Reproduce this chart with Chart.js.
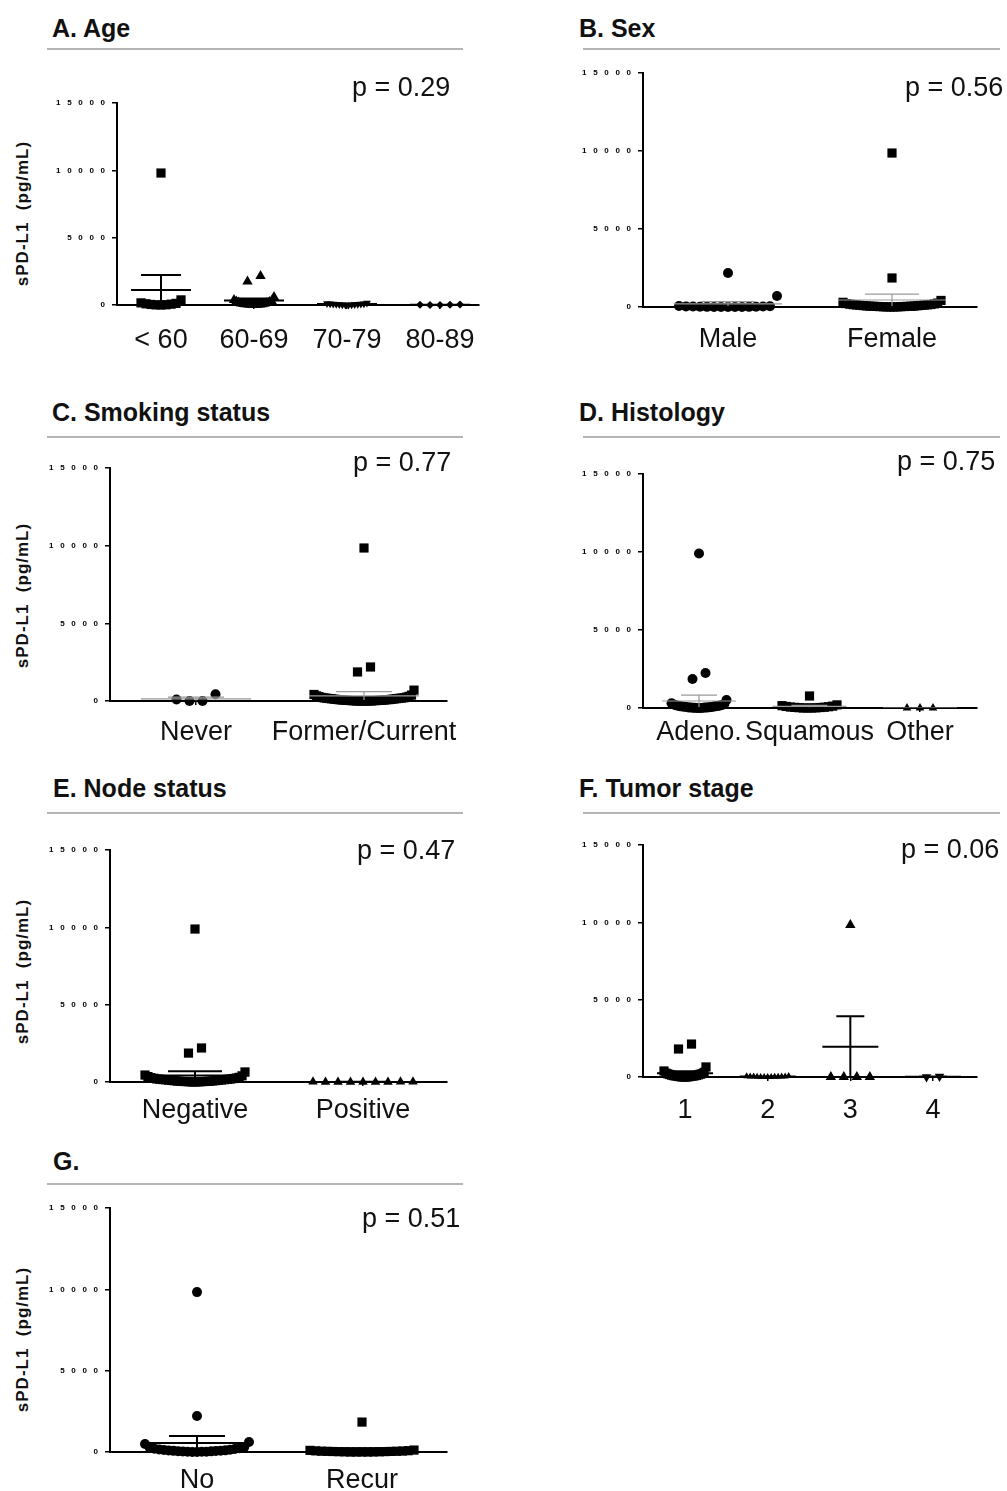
<!DOCTYPE html>
<html>
<head>
<meta charset="utf-8">
<script src="https://cdn.jsdelivr.net/npm/chart.js@4.4.1/dist/chart.umd.min.js"></script>
<style>
  html, body { margin: 0; padding: 0; background: #fff; }
  #page { position: relative; width: 1007px; height: 1491px; overflow: hidden;
          font-family: "Liberation Sans", Arial, Helvetica, sans-serif; color: #111; }
  #page canvas { position: absolute; }
  .ttl  { position: absolute; font-weight: bold; font-size: 25px; line-height: 25px; white-space: nowrap; }
  .pv   { position: absolute; font-size: 27px; line-height: 27px; white-space: nowrap; }
  .rule { position: absolute; height: 0; border-top: 2px solid #b4b4b4; }
  .ytl  { position: absolute; width: 200px; height: 17px; text-align: center; font-weight: bold;
          font-size: 17px; line-height: 17px; letter-spacing: 1px; transform: rotate(-90deg); white-space: pre; }
</style>
</head>
<body>
<div id="page"></div>
<script>
// ── Data (pg/mL) ───────────────────────────────────────────
const ageCats    = ['< 60', '60-69', '70-79', '80-89'];
const ageUnder60 = [9800, 380, 160, 120, 90, 60, 40, 20, 10, 0];
const age60s     = [2150, 1750, 600, 380, 300, 260, 220, 180, 150, 120, 100, 80, 60, 50, 40, 30, 20, 10, 0, 0];
const age70s     = [150, 120, 100, 90, 80, 70, 60, 50, 40, 30, 20, 10, 0, 0];
const age80s     = [40, 20, 10, 0, 0];
const ageMean    = [1110, 330, 70, 15];
const ageSem     = [1120, 160, 15, 8];

const sexCats   = ['Male', 'Female'];
const sexMale   = [2180, 700, 60, 50, 40, 30, 30, 20, 20, 10, 10, 5, 0, 0, 0, 0];
const sexFemale = [9870, 1860, 420, 300, 250, 220, 200, 180, 160, 150, 140, 130, 120, 110, 100, 90,
                   80, 70, 60, 55, 50, 45, 40, 35, 30, 25, 20, 15, 10, 5, 0, 0];
const sexMean   = [200, 450];
const sexSem    = [140, 380];

const smokeCats   = ['Never', 'Former/Current'];
const smokeNever  = [100, 0, 0, 430];
const smokeFormer = [9850, 2190, 1870, 700, 420, 380, 330, 300, 280, 250, 230, 210, 200, 190, 180, 170,
                     160, 150, 140, 130, 120, 110, 100, 90, 85, 80, 70, 60, 55, 50, 45, 40, 35, 30, 25,
                     20, 15, 10, 5, 0, 0, 0, 0, 0];
const smokeMean   = [140, 330];
const smokeSem    = [105, 270];

const histCats     = ['Adeno.', 'Squamous', 'Other'];
const histAdeno    = [9900, 2240, 1860, 510, 300, 250, 220, 200, 180, 160, 150, 130, 120, 110, 100, 90,
                      80, 70, 60, 50, 40, 35, 30, 25, 20, 15, 10, 5, 0, 0];
const histSquamous = [770, 200, 150, 120, 100, 80, 60, 50, 40, 30, 20, 10, 0, 0, 0];
const histOther    = [0, 0, 0];
const histMean     = [450, 110, 0];
const histSem      = [380, 55, 0];

const nodeCats = ['Negative', 'Positive'];
const nodeNeg  = [9890, 2200, 1870, 650, 450, 400, 350, 300, 280, 260, 240, 220, 200, 190, 180, 170,
                  160, 150, 140, 130, 120, 110, 100, 90, 80, 70, 60, 50, 45, 40, 35, 30, 25, 20, 15, 10, 5, 0];
const nodePos  = [20, 10, 10, 5, 5, 0, 0, 0, 0];
const nodeMean = [420, 8];
const nodeSem  = [270, 3];

const stageCats = ['1', '2', '3', '4'];
const stage1    = [2130, 1810, 650, 390, 300, 250, 220, 200, 180, 160, 140, 120, 100, 90, 80, 70, 60,
                   50, 40, 30, 20, 10, 5, 0, 0];
const stage2    = [60, 50, 40, 35, 30, 25, 20, 15, 10, 5, 0, 0, 0];
const stage3    = [9830, 0, 0, 0, 0];
const stage4    = [30, 0];
const stageMean = [250, 25, 1960, 15];
const stageSem  = [120, 6, 1960, 15];

const recurCats = ['No', 'Recur'];
const recurNo   = [9830, 2210, 615, 490, 300, 260, 230, 200, 180, 160, 140, 120, 100, 90, 80, 70, 60,
                   50, 40, 30, 20, 15, 10, 5, 0];
const recurYes  = [1840, 120, 100, 80, 70, 60, 50, 45, 40, 35, 30, 25, 20, 15, 10, 5, 0, 0, 0, 0];
const recurMean = [550, 130];
const recurSem  = [430, 95];

const yTicks  = [0, 5000, 10000, 15000];
const yTitle  = 'sPD-L1  (pg/mL)';
const titles  = ['A. Age', 'B. Sex', 'C. Smoking status', 'D. Histology', 'E. Node status', 'F. Tumor stage', 'G.'];
const pValues = ['p = 0.29', 'p = 0.56', 'p = 0.77', 'p = 0.75', 'p = 0.47', 'p = 0.06', 'p = 0.51'];

// ── Layout / styles ────────────────────────────────────────
const FONT = '"Liberation Sans", Arial, Helvetica, sans-serif';
const BLACK = { color: '#000', width: 2 };
const GRAY  = { color: '#9a9a9a', width: 1.2 };
const SQ = { style: 'rect', r: 6.5 }, DOT = { style: 'circle', r: 5 }, TRI = { style: 'triangle', r: 6 };

const panels = [
  { cats: ageCats, groups: [ageUnder60, age60s, age70s, age80s], mean: ageMean, sem: ageSem,
    marks: [SQ, TRI, { style: 'triangle', r: 4.5, rot: 180 }, { style: 'rectRot', r: 4 }],
    box: { left: 117, top: 103, right: 479, bottom: 305, c1: 161, cn: 440, row: 40, pad: 15 },
    line: BLACK, hm: 30, hc: 20,
    title: { x: 52, y: 37 }, rule: { x: 47, y: 49, w: 416 }, p: { x: 352, y: 97 }, ytl: { x: 22, y: 213 } },
  { cats: sexCats, groups: [sexMale, sexFemale], mean: sexMean, sem: sexSem, marks: [DOT, SQ],
    box: { left: 643, top: 73, right: 977, bottom: 307, c1: 728, cn: 892, row: 98, pad: 12.5 },
    line: GRAY, hm: 54, hc: 27,
    title: { x: 579, y: 37 }, rule: { x: 583, y: 49, w: 417 }, p: { x: 905, y: 97 } },
  { cats: smokeCats, groups: [smokeNever, smokeFormer], mean: smokeMean, sem: smokeSem, marks: [DOT, SQ],
    box: { left: 110, top: 468, right: 447, bottom: 701, c1: 196, cn: 364, row: 100, pad: 11.5 },
    line: GRAY, hm: 55, hc: 28,
    title: { x: 52, y: 421 }, rule: { x: 47, y: 437, w: 416 }, p: { x: 353, y: 472 }, ytl: { x: 22, y: 595 } },
  { cats: histCats, groups: [histAdeno, histSquamous, histOther], mean: histMean, sem: histSem,
    marks: [DOT, SQ, { style: 'triangle', r: 5 }],
    box: { left: 643, top: 474, right: 977, bottom: 708, c1: 699, cn: 920, row: 55, pad: 4.5 },
    line: GRAY, hm: 37, hc: 18,
    title: { x: 579, y: 421 }, rule: { x: 583, y: 437, w: 417 }, p: { x: 897, y: 471 } },
  { cats: nodeCats, groups: [nodeNeg, nodePos], mean: nodeMean, sem: nodeSem,
    marks: [SQ, { style: 'triangle', r: 5.5 }],
    box: { left: 110, top: 850, right: 447, bottom: 1082, c1: 195, cn: 363, row: 100, pad: 8.5 },
    line: BLACK, hm: 54, hc: 27,
    title: { x: 53, y: 797 }, rule: { x: 47, y: 813, w: 416 }, p: { x: 357, y: 860 }, ytl: { x: 22, y: 971 } },
  { cats: stageCats, groups: [stage1, stage2, stage3, stage4], mean: stageMean, sem: stageSem,
    marks: [SQ, { style: 'triangle', r: 4 }, TRI, { style: 'triangle', r: 5.5, rot: 180 }],
    box: { left: 643, top: 845, right: 977, bottom: 1077, c1: 685, cn: 933, row: 42, pad: 13.5 },
    line: BLACK, hm: 28, hc: 14,
    title: { x: 579, y: 797 }, rule: { x: 583, y: 813, w: 417 }, p: { x: 901, y: 859 } },
  { cats: recurCats, groups: [recurNo, recurYes], mean: recurMean, sem: recurSem, marks: [DOT, SQ],
    box: { left: 110, top: 1208, right: 447, bottom: 1452, c1: 197, cn: 362, row: 104, pad: 8.5 },
    line: BLACK, hm: 55, hc: 28,
    title: { x: 53, y: 1170 }, rule: { x: 47, y: 1184, w: 416 }, p: { x: 362, y: 1228 }, ytl: { x: 22, y: 1339 } },
];

const page = document.getElementById('page');

function addText(cls, text, left, top) {
  const d = document.createElement('div');
  d.className = cls;
  d.textContent = text;
  d.style.left = left + 'px';
  d.style.top = top + 'px';
  page.appendChild(d);
  return d;
}

// column scatter: values within ~one marker height share a row and are spread sideways,
// lowest in the middle of the row, highest at its ends
function swarm(values, centre, unit, pxY, rowPx) {
  const order = values.map(function(v, i) { return i; }).sort(function(a, b) { return values[a] - values[b]; });
  const rows = [];
  order.forEach(function(i) {
    const r = rows[rows.length - 1];
    if (r && (values[i] - values[r[0]]) * pxY < 11) r.push(i);
    else rows.push([i]);
  });
  const pts = [];
  rows.forEach(function(r) {
    const n = r.length;
    const step = n > 1 ? Math.min(13, rowPx / (n - 1)) : 0;
    const mid = (n - 1) / 2;
    const slots = r.map(function(_, k) { return k; })
      .sort(function(a, b) { return Math.abs(a - mid) - Math.abs(b - mid) || a - b; });
    r.forEach(function(i, k) {
      pts.push({ x: centre + (slots[k] - mid) * step / unit, y: values[i] });
    });
  });
  return pts;
}

// mean line + SEM whisker with cap, one path per group
function summaryPath(means, sems, unit, hm, hc) {
  const pts = [];
  means.forEach(function(m, i) {
    const x = i + 1, s = sems[i];
    pts.push({ x: x - hm / unit, y: m }, { x: x + hm / unit, y: m }, { x: x, y: null },
             { x: x, y: m - s }, { x: x, y: m + s }, { x: x, y: null },
             { x: x - hc / unit, y: m + s }, { x: x + hc / unit, y: m + s }, { x: x, y: null });
  });
  return pts;
}

function buildPanel(p, idx) {
  const b = p.box;
  const YW = 70, XH = 56, PT = 12, PR = 30;
  const canvas = document.createElement('canvas');
  canvas.width  = b.right - b.left + YW + PR;
  canvas.height = b.bottom - b.top + PT + XH;
  canvas.style.left = (b.left - YW) + 'px';
  canvas.style.top  = (b.top - PT) + 'px';
  page.appendChild(canvas);

  const n = p.cats.length;
  const unit = (b.cn - b.c1) / (n - 1);
  const xMin = 1 - (b.c1 - b.left) / unit;
  const xMax = 1 + (b.right - b.c1) / unit;
  const pxY  = (b.bottom - b.top) / yTicks[yTicks.length - 1];

  const datasets = p.groups.map(function(vals, i) {
    const m = p.marks[i];
    return {
      data: swarm(vals, i + 1, unit, pxY, b.row),
      pointStyle: m.style,
      pointRadius: m.r,
      rotation: m.rot || 0,
      backgroundColor: '#000',
      borderColor: '#000',
      borderWidth: 0,
      clip: false,
      order: 1,
    };
  });
  datasets.push({
    data: summaryPath(p.mean, p.sem, unit, p.hm, p.hc),
    showLine: true,
    spanGaps: false,
    pointRadius: 0,
    borderColor: p.line.color,
    borderWidth: p.line.width,
    order: 0,
  });

  const axisGrid = { drawOnChartArea: false, drawTicks: true, color: '#000', lineWidth: 1.5 };

  new Chart(canvas, {
    type: 'scatter',
    data: { datasets: datasets },
    options: {
      responsive: false,
      animation: false,
      events: [],
      layout: { padding: { top: PT, right: PR, left: 0, bottom: 0 } },
      plugins: { legend: { display: false }, tooltip: { enabled: false } },
      scales: {
        x: {
          type: 'linear', min: xMin, max: xMax,
          afterBuildTicks: function(s) { s.ticks = p.cats.map(function(c, i) { return { value: i + 1 }; }); },
          afterFit: function(s) { s.height = XH; s.paddingLeft = 0; s.paddingRight = 0; },
          ticks: {
            autoSkip: false, maxRotation: 0, minRotation: 0, padding: b.pad, color: '#111',
            font: { family: FONT, size: 27 },
            callback: function(v) { return p.cats[v - 1]; }
          },
          grid: Object.assign({ tickLength: 4 }, axisGrid),
          border: { display: true, color: '#000', width: 2 },
        },
        y: {
          type: 'linear', min: yTicks[0], max: yTicks[yTicks.length - 1],
          afterBuildTicks: function(s) { s.ticks = yTicks.map(function(v) { return { value: v }; }); },
          afterFit: function(s) { s.width = YW; s.paddingTop = 0; s.paddingBottom = 0; },
          ticks: {
            padding: 7, color: '#000',
            font: { family: FONT, size: 8, weight: 'bold' },
            callback: function(v) { return String(v).split('').join('   '); }
          },
          grid: Object.assign({ tickLength: 5 }, axisGrid),
          border: { display: true, color: '#000', width: 2 },
        }
      }
    }
  });

  addText('ttl', titles[idx], p.title.x, p.title.y - 0.8465 * 25);
  const r = addText('rule', '', p.rule.x, p.rule.y - 1);
  r.style.width = p.rule.w + 'px';
  addText('pv', pValues[idx], p.p.x, p.p.y - 0.8465 * 27);
  if (p.ytl) addText('ytl', yTitle, p.ytl.x - 100, p.ytl.y - 8.5);
}

panels.forEach(buildPanel);
</script>
</body>
</html>
